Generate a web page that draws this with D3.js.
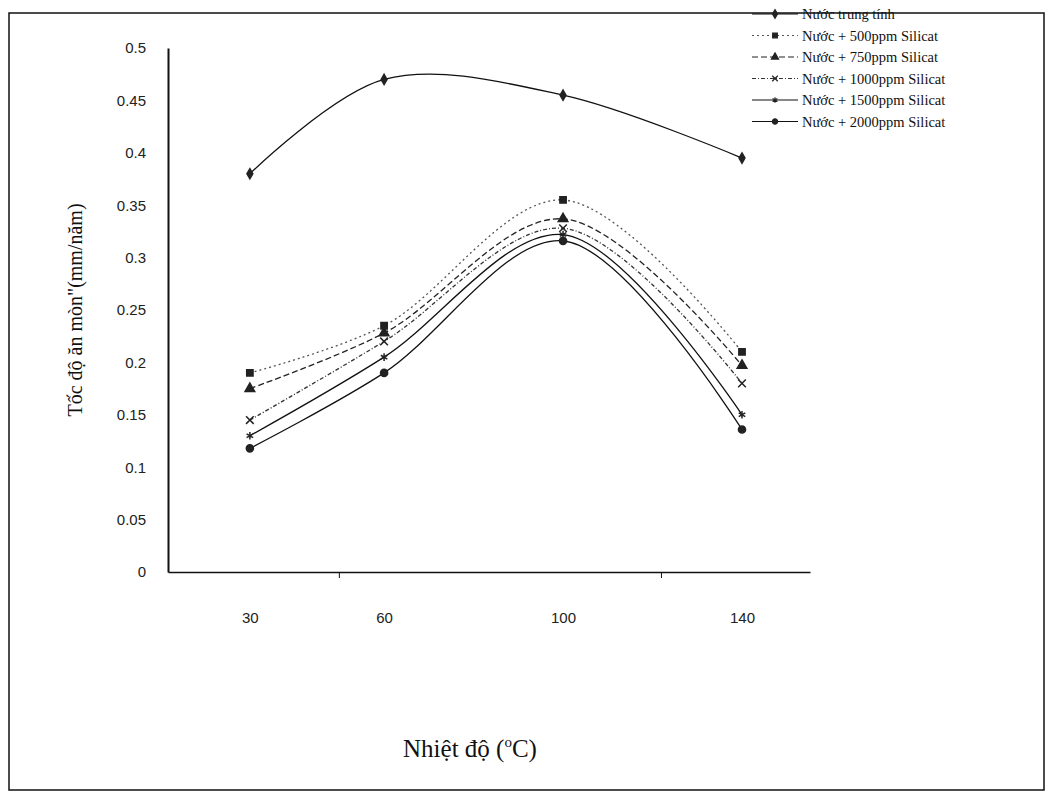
<!DOCTYPE html>
<html>
<head>
<meta charset="utf-8">
<script src="https://cdn.jsdelivr.net/npm/d3@7"></script>
<style>
  body { margin: 0; background: #fff; }
</style>
</head>
<body>
<div id="chart"></div>
<script>
const width = 1053, height = 799

// DATA
const temps = [30, 60, 100, 140]
const seriesNames = ["Nước trung tính", "Nước + 500ppm Silicat", "Nước + 750ppm Silicat",
  "Nước + 1000ppm Silicat", "Nước + 1500ppm Silicat", "Nước + 2000ppm Silicat"]
const trungTinh = [0.38, 0.47, 0.455, 0.395]
const ppm500 = [0.19, 0.235, 0.355, 0.21]
const ppm750 = [0.175, 0.228, 0.337, 0.197]
const ppm1000 = [0.145, 0.22, 0.328, 0.18]
const ppm1500 = [0.13, 0.205, 0.322, 0.15]
const ppm2000 = [0.118, 0.19, 0.316, 0.136]
const yTicks = [0, 0.05, 0.1, 0.15, 0.2, 0.25, 0.3, 0.35, 0.4, 0.45, 0.5]

const allSeries = [trungTinh, ppm500, ppm750, ppm1000, ppm1500, ppm2000]

// styles per series
const symbols = [d3.symbolDiamond, d3.symbolSquare, d3.symbolTriangle, d3.symbolTimes, d3.symbolAsterisk, d3.symbolCircle]
const dashes = [null, "2,3", "6,3", "4,2,1,2", null, null]
const strokes = ["#111", "#555", "#222", "#333", "#111", "#111"]

const svg = d3.select("#chart")
  .append("svg")
    .attr("width", width)
    .attr("height", height)

// outer frame
svg.append("rect")
  .attr("x", 9).attr("y", 13)
  .attr("width", 1035).attr("height", 777)
  .attr("fill", "none")
  .attr("stroke", "#111")
  .attr("stroke-width", 1.5)

// SCALES
const xScale = d3.scaleLinear()
  .domain([11.7, 155.2])
  .range([168, 810])

const yScale = d3.scaleLinear()
  .domain([0, 0.5])
  .range([572, 48])

// AXES
svg.append("g")
  .attr("transform", "translate(0,572)")
  .call(d3.axisBottom(xScale).tickValues(temps).tickSize(0).tickPadding(40))
  .call(g => g.select(".domain").attr("stroke", "#111").attr("stroke-width", 1.3))
  .selectAll("text")
    .attr("font-family", "Liberation Sans, Arial, sans-serif")
    .attr("font-size", "15")
    .attr("fill", "#222")

// small tick marks on the x axis, as in the scan
svg.append("g")
  .selectAll("line")
  .data([50, 122])
  .join("line")
    .attr("x1", d => xScale(d)).attr("x2", d => xScale(d))
    .attr("y1", 572).attr("y2", 578)
    .attr("stroke", "#111")

svg.append("g")
  .attr("transform", "translate(168,0)")
  .call(d3.axisLeft(yScale).tickValues(yTicks).tickSize(0).tickPadding(22)
    .tickFormat(d => d3.format("")(d)))
  .call(g => g.select(".domain").attr("stroke", "#111").attr("stroke-width", 2))
  .selectAll("text")
    .attr("font-family", "Liberation Sans, Arial, sans-serif")
    .attr("font-size", "15")
    .attr("fill", "#222")

// axis titles
svg.append("text")
  .attr("transform", "translate(82,310) rotate(-90)")
  .attr("text-anchor", "middle")
  .attr("font-family", "Liberation Serif, Times New Roman, serif")
  .attr("font-size", "20")
  .attr("fill", "#111")
  .text("Tốc độ ăn mòn\"(mm/năm)")

const xTitle = svg.append("text")
  .attr("x", 470).attr("y", 757)
  .attr("text-anchor", "middle")
  .attr("font-family", "Liberation Serif, Times New Roman, serif")
  .attr("font-size", "25")
  .attr("fill", "#111")
xTitle.append("tspan").text("Nhiệt độ (")
xTitle.append("tspan").attr("font-size", "15").attr("dy", "-10").text("o")
xTitle.append("tspan").attr("dy", "10").text("C)")

// LINES
const line = d3.line()
  .x((d, i) => xScale(temps[i]))
  .y(d => yScale(d))
  .curve(d3.curveCatmullRom.alpha(0.5))

allSeries.forEach((vals, s) => {
  svg.append("path")
    .datum(vals)
    .attr("d", line)
    .attr("fill", "none")
    .attr("stroke", strokes[s])
    .attr("stroke-width", 1.3)
    .attr("stroke-dasharray", dashes[s])

  svg.append("g")
    .selectAll("path")
    .data(vals)
    .join("path")
      .attr("transform", (d, i) => `translate(${xScale(temps[i])},${yScale(d)})`)
      .attr("d", d3.symbol().type(symbols[s]).size(s === 0 ? 30 : 40))
      .attr("fill", "#222")
      .attr("stroke", "#222")
      .attr("stroke-width", 1.5)
})

// LEGEND
const legend = svg.append("g")
  .attr("transform", "translate(752,14)")

seriesNames.forEach((name, s) => {
  const row = legend.append("g").attr("transform", `translate(0,${s * 21.5})`)
  row.append("line")
    .attr("x1", 0).attr("x2", 46)
    .attr("stroke", strokes[s])
    .attr("stroke-width", 1.2)
    .attr("stroke-dasharray", dashes[s])
  row.append("path")
    .attr("transform", "translate(23,0)")
    .attr("d", d3.symbol().type(symbols[s]).size(22))
    .attr("fill", "#222")
    .attr("stroke", "#222")
    .attr("stroke-width", 1.2)
  row.append("text")
    .attr("x", 50).attr("y", 5)
    .attr("font-family", "Liberation Serif, Times New Roman, serif")
    .attr("font-size", "14.5")
    .attr("fill", "#111")
    .text(name)
})
</script>
</body>
</html>
